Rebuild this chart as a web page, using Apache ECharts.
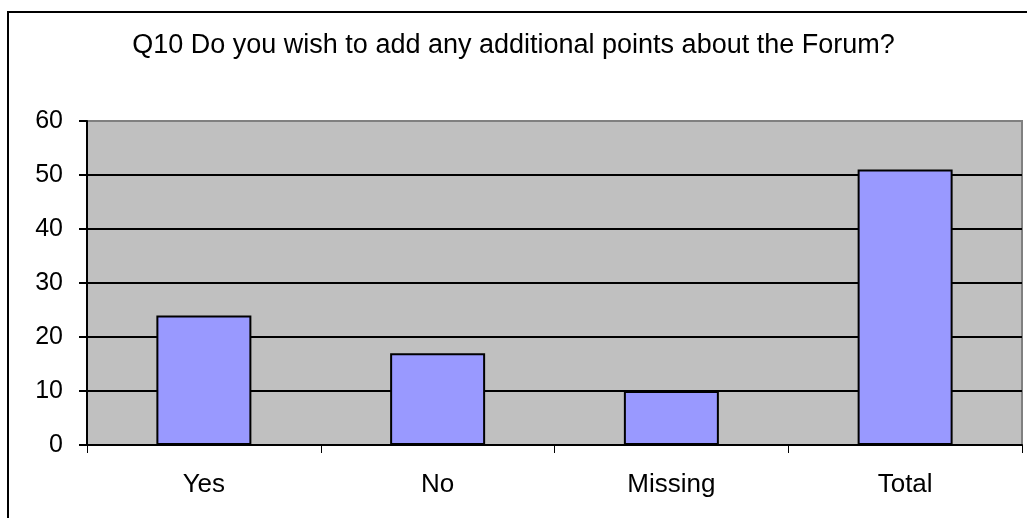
<!DOCTYPE html>
<html>
<head>
<meta charset="utf-8" />
<script src="https://cdn.jsdelivr.net/npm/echarts@6/dist/echarts.min.js"></script>
<title>Q10</title>
<style>
  html, body { margin: 0; padding: 0; background: #fff; }
  #chart { width: 1027px; height: 518px; }
</style>
</head>
<body>
<div id="chart"></div>
<script>
// data
var categories = ['Yes', 'No', 'Missing', 'Total'];
var counts = [24, 17, 10, 51];
var yTicks = { min: 0, max: 60, interval: 10 };

var font = 'Liberation Sans, Arial';

var myChart = echarts.init(document.getElementById('chart'));
var option = {
    backgroundColor: '#fff',
    animation: false,
    title: {
        text: 'Q10 Do you wish to add any additional points about the Forum?',
        left: 'center',
        top: 27,
        textStyle: { fontFamily: font, fontSize: 27, fontWeight: 'normal', color: '#000' }
    },
    // outer frame, runs off the right and bottom edge like the original
    graphic: [{
        type: 'rect',
        shape: { x: 8, y: 12, width: 1100, height: 600 },
        style: { fill: null, stroke: '#000', lineWidth: 2 },
        silent: true
    }],
    grid: {
        left: 87, right: 5, top: 121, bottom: 73,
        show: true,
        backgroundColor: '#C0C0C0',
        borderColor: '#808080',
        borderWidth: 2
    },
    xAxis: {
        type: 'category',
        data: categories,
        axisLine: { show: true, lineStyle: { color: '#000', width: 2 } },
        axisTick: { show: true, length: 8, inside: false, lineStyle: { color: '#000', width: 1 } },
        axisLabel: { margin: 27, fontFamily: font, fontSize: 26, color: '#000' },
        splitLine: { show: false }
    },
    yAxis: {
        type: 'value',
        min: yTicks.min,
        max: yTicks.max,
        interval: yTicks.interval,
        axisLine: { show: true, lineStyle: { color: '#000', width: 2 } },
        axisTick: { show: true, length: 8, lineStyle: { color: '#000', width: 2 } },
        axisLabel: { margin: 24, fontFamily: font, fontSize: 25, color: '#000' },
        splitLine: { show: true, showMaxLine: false, lineStyle: { color: '#000', width: 2 } }
    },
    series: [{
        type: 'bar',
        data: counts,
        barWidth: 95,
        itemStyle: { color: '#9999FF', borderColor: '#000', borderWidth: 2 }
    }]
};
myChart.setOption(option);
</script>
</body>
</html>
